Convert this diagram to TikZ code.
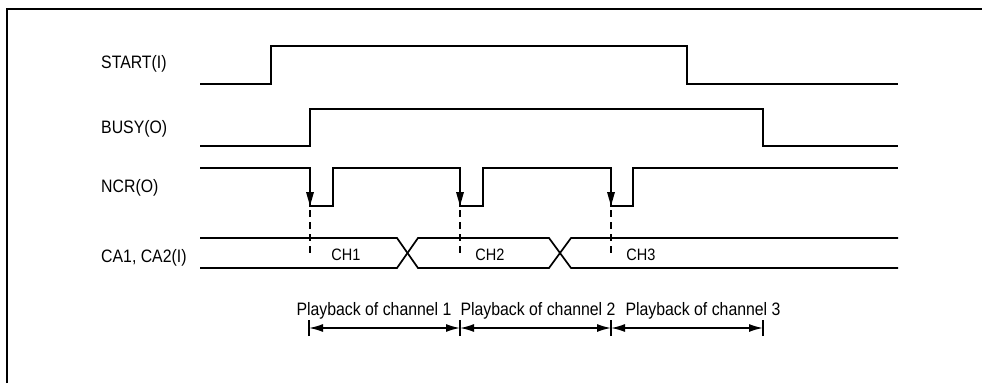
\documentclass[tikz,border=0pt]{standalone}
\usepackage{fontspec}
\setmainfont{Liberation Sans}[FakeStretch=0.88]
\usetikzlibrary{arrows.meta}
\begin{document}
\begin{tikzpicture}[x=1pt,y=-1pt,
  sig/.style={line width=1.7pt, line join=miter},
  lbl/.style={anchor=base west, inner sep=0pt, font=\fontsize{18}{21}\selectfont},
  chlbl/.style={anchor=base, inner sep=0pt, font=\fontsize{16.5}{19}\selectfont},
  pblbl/.style={anchor=base, inner sep=0pt, font=\fontsize{18}{21}\selectfont},
  edgearrow/.style={line width=1.7pt, -{Triangle[length=14pt,width=7.5pt]}},
  guide/.style={line width=1.6pt, dash pattern=on 7pt off 5pt},
  span/.style={line width=1.6pt, {Latex[length=14pt,width=8pt]}-{Latex[length=14pt,width=8pt]}},
  tick/.style={line width=1.6pt}]
\useasboundingbox (0,0) rectangle (982,383);
% frame
\draw[line width=1.8pt] (7,383) -- (7,9) -- (982,9);
% labels
\node[lbl] (lstart) at (101,68) {START(I)};
\node[lbl] (lbusy) at (101,133) {BUSY(O)};
\node[lbl] (lncr) at (101,192) {NCR(O)};
\node[lbl] (lca) at (101,262) {CA1, CA2(I)};
% START
\draw[sig] (200,84) -- (271,84) -- (271,46) -- (687,46) -- (687,84) -- (898,84);
% BUSY
\draw[sig] (200,146) -- (310,146) -- (310,109) -- (763,109) -- (763,146) -- (898,146);
% NCR
\draw[sig] (200,168) -- (310,168) -- (310,206) -- (333,206) -- (333,168)
  -- (460,168) -- (460,206) -- (483,206) -- (483,168)
  -- (611,168) -- (611,206) -- (633,206) -- (633,168) -- (898,168);
\coordinate (n1t) at (310,172); \coordinate (n1b) at (310,206);
\coordinate (n2t) at (460,172); \coordinate (n2b) at (460,206);
\coordinate (n3t) at (611,172); \coordinate (n3b) at (611,206);
\draw[edgearrow] (n1t) -- (n1b);
\draw[edgearrow] (n2t) -- (n2b);
\draw[edgearrow] (n3t) -- (n3b);
% guides
\coordinate (g1) at (310,254); \coordinate (g2) at (460,254); \coordinate (g3) at (611,254);
\draw[guide] (310,210) -- (g1);
\draw[guide] (460,210) -- (g2);
\draw[guide] (611,210) -- (g3);
% bus
\draw[sig] (200,238) -- (397,238) -- (418,268) -- (549,268) -- (571,238) -- (898,238);
\draw[sig] (200,268) -- (397,268) -- (418,238) -- (549,238) -- (571,268) -- (898,268);
\node[chlbl] (ch1) at (346,260) {CH1};
\node[chlbl] (ch2) at (490,260) {CH2};
\node[chlbl] (ch3) at (641,260) {CH3};
% playback spans
\coordinate (t1) at (309,328); \coordinate (t2) at (460,328);
\coordinate (t3) at (611,328); \coordinate (t4) at (763,328);
\foreach \t in {t1,t2,t3,t4} {\draw[tick] ([yshift=-8pt]\t) -- ([yshift=8pt]\t);}
\draw[span] (t1) -- (t2);
\draw[span] (t2) -- (t3);
\draw[span] (t3) -- (t4);
\node[pblbl] (pb1) at (374,315) {Playback of channel 1};
\node[pblbl] (pb2) at (538,315) {Playback of channel 2};
\node[pblbl] (pb3) at (703,315) {Playback of channel 3};
\end{tikzpicture}
\end{document}
